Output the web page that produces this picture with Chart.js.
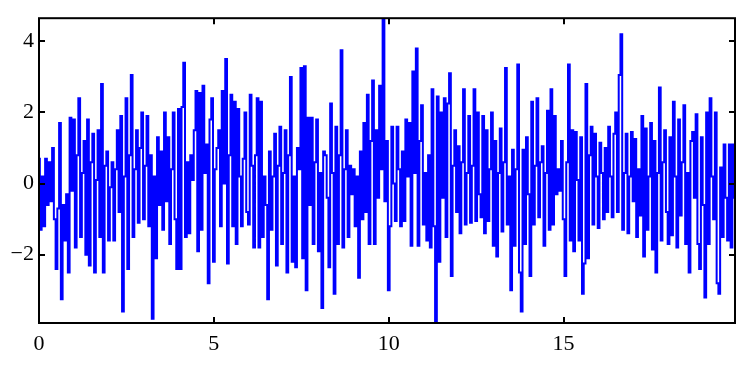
<!DOCTYPE html>
<html>
<head>
<meta charset="utf-8">
<script src="https://cdn.jsdelivr.net/npm/chart.js@4/dist/chart.umd.min.js"></script>
<style>
  html, body { margin: 0; padding: 0; background: #fff; }
  #wrap { width: 742px; height: 368px; position: relative; }
</style>
</head>
<body>
<div id="wrap"><canvas id="noise"></canvas></div>
<script>
// sample spacing of the trace and values
const sampleStep = 0.05;
const signalValues = [
  0.7, -1.3, 0.2, -1.2, 0.7, -0.6, 0.6, -0.5, 1.0, -1.0,
  -2.4, -0.7, 1.7, -3.25, -0.6, -1.6, -0.3, -2.5, 1.85, -0.2,
  1.8, -1.8, 0.8, 2.4, -1.5, 0.3, 1.2, -2.0, 1.8, -2.3,
  0.6, 1.4, -2.5, 0.1, 1.5, -1.5, 2.8, -2.5, 0.5, 0.9,
  -1.6, -0.1, 0.6, -1.6, 0.4, 1.5, -0.8, 1.9, -3.6, 0.2,
  2.4, -2.4, 0.8, 3.05, -1.5, 0.4, 1.5, -1.1, 1.0, 2.0,
  -1.0, 0.5, 1.9, -1.2, 0.8, -3.8, 0.2, -2.1, 1.3, -0.6,
  0.9, -1.3, 2.0, -0.5, 1.3, -1.7, 0.4, 2.0, -1.0, -2.4,
  2.1, -2.4, 2.15, 3.4, -1.5, 0.6, -1.4, 0.8, 0.1, 1.5,
  2.6, -1.9, 2.55, -1.3, 2.75, 0.3, 1.1, -2.8, 1.8, 2.4,
  -2.2, 0.4, 1.0, 1.5, -1.2, 2.6, 0.0, 3.5, -2.25, 0.8,
  2.5, -1.2, 2.3, -1.7, 2.1, 0.2, -1.2, 0.7, 2.0, -0.8,
  -1.15, 2.5, 0.5, -1.8, 0.8, 2.4, -1.8, 2.3, -1.5, 0.2,
  -0.6, -3.25, 0.9, -1.3, 0.2, 1.4, -2.3, 0.5, 1.6, -1.7,
  0.3, 1.5, -2.5, 0.8, 3.0, -2.2, 0.2, -2.35, 1.0, 0.4,
  3.25, -2.1, 3.3, -3.0, 1.85, -0.6, 1.85, -1.7, 0.6, 1.8,
  -1.9, 0.3, -3.5, 0.9, 0.8, -0.4, -2.35, 2.25, 0.3, -3.1,
  1.6, -1.7, 0.8, 3.75, -1.8, 0.4, 1.5, -1.5, 0.5, -0.3,
  0.4, -1.2, 0.2, -2.65, 0.9, -1.0, 1.7, -0.8, 2.5, -1.7,
  1.2, 2.9, -1.7, 1.5, -0.4, 2.75, 0.4, 4.63, -0.5, 1.2,
  -3.0, -1.2, 1.6, 0.0, -1.05, 1.6, 0.4, -1.2, 0.9, -1.05,
  1.8, 0.2, 1.7, -1.75, 3.15, 0.3, 3.8, -1.75, 1.2, 2.2,
  -1.15, 0.3, -1.6, 0.8, -1.8, 2.65, -1.2, -3.9, 2.45, -2.2,
  2.0, -0.4, 2.4, -1.5, 2.25, 3.1, -2.6, 0.5, 1.5, -0.8,
  1.05, -1.4, 0.6, 2.65, -1.15, 0.3, 1.9, -1.1, 0.5, 2.65,
  -1.05, 2.0, -0.3, -0.95, 1.9, -1.4, 1.5, -1.05, 0.4, 2.0,
  -1.75, 1.2, -2.05, 0.3, 1.55, -1.35, 0.6, 3.25, -1.15, 0.2,
  -3.0, 0.95, -1.75, 0.4, 3.35, -2.5, -3.6, 0.95, -1.7, 1.3,
  -0.3, -2.6, 2.3, -1.15, 0.5, 2.4, -0.95, 0.6, 1.05, -1.75,
  0.3, 2.05, -1.3, 2.65, -1.15, 1.9, -0.3, 0.4, -0.2, 1.2,
  -1.0, -2.6, 0.6, 3.35, -1.6, 1.5, -1.9, 1.45, 0.1, -1.6,
  1.3, -3.1, -2.25, 2.8, -2.1, 0.8, 1.6, -1.15, 1.4, 0.2,
  -1.25, 1.15, 0.3, -1.0, 1.0, -0.8, 1.6, 0.2, -0.95, 1.4,
  2.0, -0.8, 3.05, 4.2, -1.3, 0.3, 1.4, -1.4, 0.2, 1.45,
  -0.5, 1.25, -1.5, 0.4, -0.9, 1.9, -2.05, 1.55, -1.3, 0.2,
  1.7, -1.85, 1.2, -2.5, 0.3, 2.7, -1.6, 0.6, 1.5, -0.8,
  -1.7, 1.3, -1.45, 2.3, 0.2, -1.8, 1.8, -0.9, 0.6, 2.2,
  -1.7, 0.3, -2.5, 1.2, 1.45, -0.4, 1.95, -1.7, -2.4, 1.3,
  -0.6, -3.2, 2.0, -1.7, 2.4, 0.2, -1.0, 2.0, -2.8, -3.1,
  0.45, -1.5, 1.1, -0.4, -1.6, 1.1, -1.8, 1.1, -0.4
];
const xTicks = [0, 5, 10, 15];
const yTicks = [-2, 0, 2, 4];

let points = signalValues.map((v, i) => ({ x: +(i * sampleStep).toFixed(2), y: v }));

// matlab style box with inward ticks on all four sides
const boxPlugin = {
  id: 'box',
  afterDraw(chart) {
    const ctx = chart.ctx;
    const a = chart.chartArea;
    const xs = chart.scales.x, ys = chart.scales.y;
    const len = 6;
    ctx.save();
    ctx.strokeStyle = '#000';
    ctx.lineWidth = 2;
    ctx.beginPath();
    xTicks.forEach(t => {
      const px = Math.round(xs.getPixelForValue(t));
      ctx.moveTo(px, a.bottom); ctx.lineTo(px, a.bottom - len);
      ctx.moveTo(px, a.top); ctx.lineTo(px, a.top + len);
    });
    yTicks.forEach(t => {
      const py = Math.round(ys.getPixelForValue(t));
      ctx.moveTo(a.left, py); ctx.lineTo(a.left + len, py);
      ctx.moveTo(a.right, py); ctx.lineTo(a.right - len, py);
    });
    ctx.stroke();
    ctx.strokeRect(a.left, a.top, a.right - a.left, a.bottom - a.top);
    ctx.restore();
  }
};

const serif = { family: '"Liberation Serif", "DejaVu Serif", serif', size: 22 };

new Chart(document.getElementById('noise'), {
  type: 'line',
  data: {
    datasets: [{
      data: points,
      borderColor: '#0000ff',
      borderWidth: 2,
      pointRadius: 0,
      stepped: 'middle',
      fill: false
    }]
  },
  options: {
    responsive: true,
    maintainAspectRatio: false,
    animation: false,
    layout: { padding: { top: 14, right: 7, left: 0, bottom: 0 } },
    plugins: { legend: { display: false }, tooltip: { enabled: false } },
    scales: {
      x: {
        type: 'linear',
        min: 0,
        max: 19.9,
        afterBuildTicks: s => { s.ticks = xTicks.map(v => ({ value: v })); },
        afterFit: s => { s.height = 45; },
        grid: { display: false, drawTicks: false },
        border: { display: false },
        ticks: { color: '#000', font: serif, padding: 8, maxRotation: 0 }
      },
      y: {
        min: -3.92,
        max: 4.65,
        afterBuildTicks: s => { s.ticks = yTicks.map(v => ({ value: v })); },
        afterFit: s => { s.width = 39; },
        grid: { display: false, drawTicks: false },
        border: { display: false },
        ticks: {
          color: '#000',
          font: serif,
          padding: 5,
          callback: v => v < 0 ? '\u2212' + Math.abs(v) : String(v)
        }
      }
    }
  },
  plugins: [boxPlugin]
});
</script>
</body>
</html>
